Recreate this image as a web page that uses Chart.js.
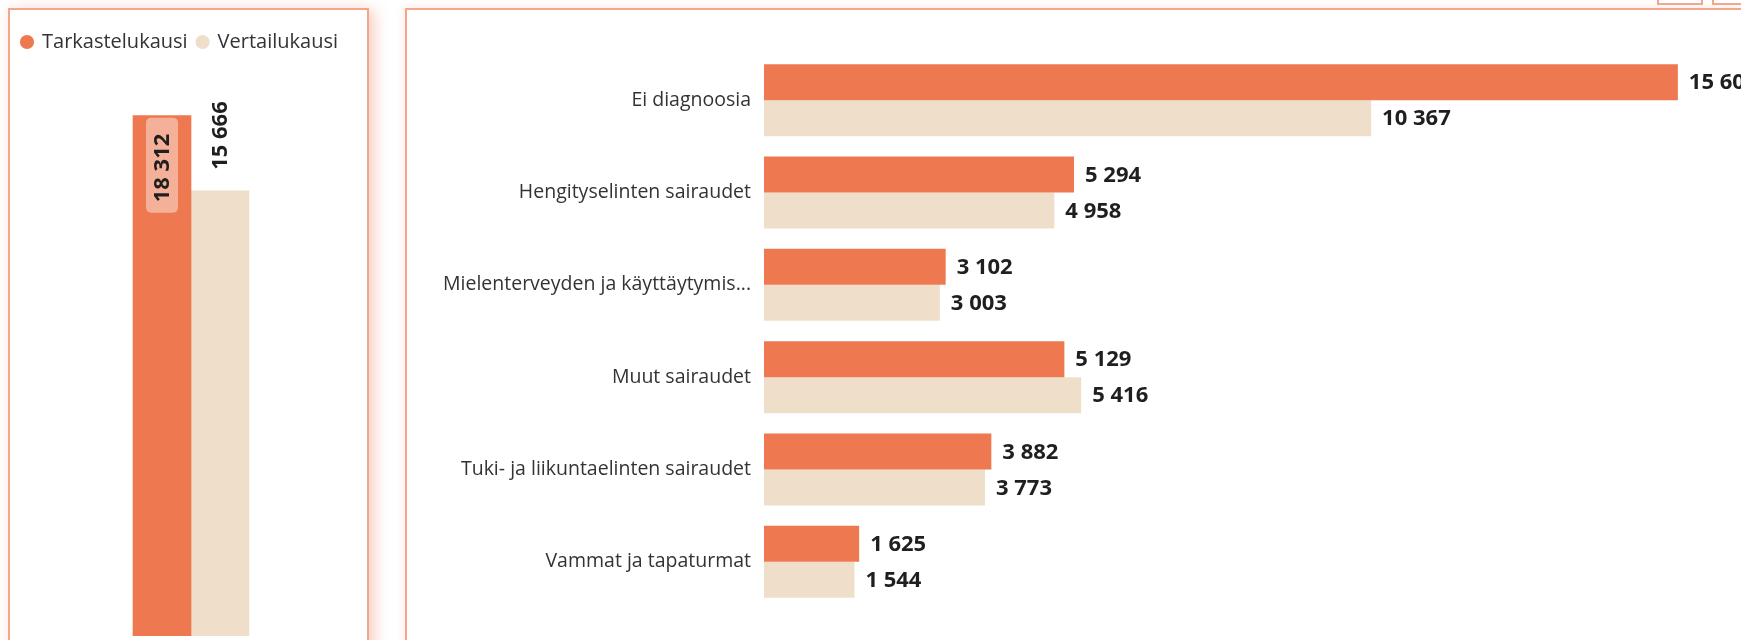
<!DOCTYPE html>
<html lang="fi">
<head>
<meta charset="utf-8">
<title>Diagnoosit</title>
<script src="https://cdn.jsdelivr.net/npm/chart.js@4.4.1/dist/chart.umd.min.js"></script>
<style>
  html, body { margin: 0; padding: 0; background: #fff; }
  body { width: 1741px; height: 640px; overflow: hidden; position: relative; font-family: "Open Sans", sans-serif; }
  .panel { position: absolute; box-sizing: border-box; border: 2px solid #F4A68C; background: #fff; }
  #panelTotal { left: 8px; top: 8px; width: 361px; height: 720px; box-shadow: 5px 2px 14px rgba(240, 140, 110, .45); }
  #panelDiag  { left: 405px; top: 8px; width: 1420px; height: 720px; box-shadow: 0 0 8px rgba(240, 140, 110, .25); }
  .hdrBtn { position: absolute; top: -12px; height: 17px; box-sizing: border-box; border: 2px solid #F4A68C; background: #fff; }
  canvas { position: absolute; }
  #chartTotal { left: 10px; top: 10px; }
  #chartDiag  { left: 408px; top: 10px; }
</style>
</head>
<body>
<div class="panel" id="panelTotal"></div>
<div class="panel" id="panelDiag"></div>
<div class="hdrBtn" style="left:1657px;width:46px"></div>
<div class="hdrBtn" style="left:1712px;width:60px"></div>
<canvas id="chartTotal" width="360" height="626"></canvas>
<canvas id="chartDiag" width="1334" height="628"></canvas>

<script>
// Sarjat
const SERIES = ['Tarkastelukausi', 'Vertailukausi'];
const COLORS = ['#EE7850', '#EFDFCA'];

// Yhteensä (vasen kuva)
const TOTAL_LABELS  = ['Yhteensä'];
const TOTAL_CURRENT = [18312];
const TOTAL_COMPARE = [15666];

// Diagnoosiryhmät (oikea kuva)
const DIAG_LABELS = [
  'Ei diagnoosia',
  'Hengityselinten sairaudet',
  'Mielenterveyden ja käyttäytymisen häiriöt',
  'Muut sairaudet',
  'Tuki- ja liikuntaelinten sairaudet',
  'Vammat ja tapaturmat'
];
const DIAG_CURRENT = [15605, 5294, 3102, 5129, 3882, 1625];
const DIAG_COMPARE = [10367, 4958, 3003, 5416, 3773, 1544];

const FONT = '"Open Sans", sans-serif';
const TEXT = '#333333';

// 18312 -> "18 312"
function fmt(v){ return String(v).replace(/\B(?=(\d{3})+(?!\d))/g, ' '); }

// Power BI -tyyppinen katkaisu liian pitkille nimille
function shorten(s){ return s.length > 36 ? s.slice(0, 31) + '...' : s; }

// ----- Arvotarrat -----
const valueLabels = {
  id: 'valueLabels',
  afterDatasetsDraw(chart, args, opts) {
    const ctx = chart.ctx;
    ctx.save();
    ctx.font = 'bold 22px ' + FONT;
    chart.data.datasets.forEach((ds, i) => {
      const meta = chart.getDatasetMeta(i);
      meta.data.forEach((bar, j) => {
        const txt = fmt(ds.data[j]);
        if (opts.horizontal) {
          ctx.fillStyle = '#1f1f1f';
          ctx.textAlign = 'left';
          ctx.textBaseline = 'middle';
          ctx.fillText(txt, bar.x + 11, bar.y + 1);
          return;
        }
        // pystypalkit: teksti käännetty 90°
        const inside = (opts.inside || [])[i];
        if (inside) {
          ctx.fillStyle = 'rgba(255,255,255,.42)';
          ctx.beginPath();
          ctx.roundRect(bar.x - 16, bar.y + 2, 32, 95, 5);
          ctx.fill();
        }
        ctx.save();
        ctx.translate(bar.x, inside ? bar.y + 18 : bar.y - 21);
        ctx.rotate(-Math.PI / 2);
        ctx.fillStyle = '#1f1f1f';
        ctx.textAlign = inside ? 'right' : 'left';
        ctx.textBaseline = 'middle';
        ctx.fillText(txt, 0, 1);
        ctx.restore();
      });
    });
    ctx.restore();
  }
};

function datasets(cur, cmp){
  return [
    { label: SERIES[0], data: cur, backgroundColor: COLORS[0], borderWidth: 0 },
    { label: SERIES[1], data: cmp, backgroundColor: COLORS[1], borderWidth: 0 }
  ];
}

function draw(){
  Chart.defaults.font.family = FONT;
  Chart.defaults.color = TEXT;

  // Yhteensä
  new Chart(document.getElementById('chartTotal'), {
    type: 'bar',
    data: { labels: TOTAL_LABELS, datasets: datasets(TOTAL_CURRENT, TOTAL_COMPARE) },
    options: {
      responsive: false, animation: false, devicePixelRatio: 1,
      barThickness: 58,
      layout: { padding: { top: 12, left: 2, right: 0, bottom: 0 } },
      scales: {
        x: { display: false },
        y: { display: false, min: 0, max: 20200 }
      },
      plugins: {
        legend: {
          position: 'top', align: 'start',
          labels: {
            usePointStyle: true, pointStyle: 'circle',
            boxWidth: 10, boxHeight: 10, padding: 10,
            font: { size: 20 }, color: TEXT
          }
        },
        tooltip: { enabled: false },
        valueLabels: { inside: [true, false] }
      }
    },
    plugins: [valueLabels]
  });

  // Diagnoosit
  new Chart(document.getElementById('chartDiag'), {
    type: 'bar',
    data: { labels: DIAG_LABELS, datasets: datasets(DIAG_CURRENT, DIAG_COMPARE) },
    options: {
      indexAxis: 'y',
      responsive: false, animation: false, devicePixelRatio: 1,
      categoryPercentage: 0.78, barPercentage: 1,
      layout: { padding: { top: 44, bottom: 30, left: 0, right: 0 } },
      scales: {
        x: { display: false, min: 0, max: 16700 },
        y: {
          grid: { display: false, drawTicks: false },
          border: { display: false },
          ticks: {
            padding: 13, color: TEXT, font: { size: 19.5 },
            callback(v){ return shorten(this.getLabelForValue(v)); }
          },
          afterFit(scale){ scale.width = 356; }
        }
      },
      plugins: {
        legend: { display: false },
        tooltip: { enabled: false },
        valueLabels: { horizontal: true }
      }
    },
    plugins: [valueLabels]
  });
}

Promise.all([
  document.fonts.load('20px "Open Sans"'),
  document.fonts.load('bold 22px "Open Sans"')
]).then(draw, draw);
</script>
</body>
</html>
